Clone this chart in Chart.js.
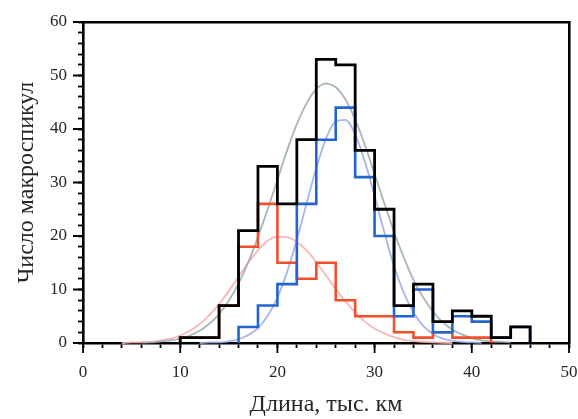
<!DOCTYPE html>
<html>
<head>
<meta charset="utf-8">
<script src="https://cdn.jsdelivr.net/npm/chart.js@4.4.1/dist/chart.umd.min.js"></script>
<style>
  html, body { margin: 0; padding: 0; background: #fff; }
  #wrap { width: 578px; height: 419px; }
  canvas { display: block; }
</style>
</head>
<body>
<div id="wrap"><canvas id="c" width="578" height="419"></canvas></div>
<script>
// Histogram bin edges (length, thousand km)
const binEdges = [10, 12, 14, 16, 18, 20, 22, 24, 26, 28, 30, 32, 34, 36, 38, 40, 42, 44, 46];
// Number of macrospicules per bin
const totalCounts = [1, 1, 7, 21, 33, 26, 38, 53, 52, 36, 25, 7, 11, 4, 6, 5, 1, 3];
const redCounts   = [1, 1, 7, 18, 26, 15, 12, 15, 8, 5, 5, 2, 1, 2, 1, 1, 0, 0];
const blueCounts  = [0, 0, 0, 3, 7, 11, 26, 38, 44, 31, 20, 5, 10, 2, 5, 4, 1, 3];

// Fitted distribution curves
const totalFitX = [6, 7, 8, 9, 10, 11, 12, 13, 14, 15, 16, 17, 18, 19, 20, 21, 22, 23, 24, 25,
                   26, 27, 28, 29, 30, 31, 32, 33, 34, 35, 36, 37, 38, 39, 40, 41, 42, 43, 44];
const totalFitY = [0.1, 0.1, 0.3, 0.5, 0.8, 1.4, 2.3, 3.6, 5.4, 7.9, 11.1, 15.1, 19.8, 25.0, 30.5, 36.0, 40.9, 44.8, 47.5, 48.5,
                   47.8, 45.5, 41.8, 37.0, 31.6, 26.1, 20.8, 16.0, 11.8, 8.5, 5.9, 3.9, 2.5, 1.6, 0.9, 0.5, 0.3, 0.2, 0.1];
const blueFitX = [12, 13, 14, 15, 16, 17, 18, 19, 20, 21, 22, 23, 24, 25, 26, 27, 28, 29, 30, 31,
                  32, 33, 34, 35, 36, 37, 38, 39, 40, 41];
const blueFitY = [0.0, 0.1, 0.1, 0.3, 0.7, 1.5, 2.8, 5.1, 8.5, 13.3, 19.3, 26.1, 32.7, 38.2, 41.4, 41.7, 39.0, 33.9, 27.5, 20.7,
                  14.4, 9.4, 5.7, 3.2, 1.7, 0.8, 0.4, 0.2, 0.1, 0.0];
const redFitX = [4, 5, 6, 7, 8, 9, 10, 11, 12, 13, 14, 15, 16, 17, 18, 19, 20, 21, 22, 23,
                 24, 25, 26, 27, 28, 29, 30, 31, 32, 33, 34, 35, 36, 37, 38];
const redFitY = [0.0, 0.1, 0.1, 0.2, 0.5, 0.8, 1.4, 2.3, 3.5, 5.2, 7.3, 9.7, 12.4, 15.0, 17.3, 19.1, 19.9, 19.8, 18.9, 17.3,
                 15.1, 12.6, 10.1, 7.8, 5.7, 4.0, 2.7, 1.8, 1.1, 0.6, 0.4, 0.2, 0.1, 0.05, 0.0];

// Axis tick values carrying labels
const xMajorTicks = [0, 10, 20, 30, 40, 50];
const yMajorTicks = [0, 10, 20, 30, 40, 50, 60];

const serif = "'Liberation Serif', 'Times New Roman', serif";
const textColor = '#262626';

// Outline of a histogram as a stepped polyline (skips empty bins at both ends)
function stepOutline(counts) {
  let first = counts.findIndex(v => v > 0);
  let last = counts.length - 1;
  while (counts[last] === 0) last--;
  const pts = [{ x: binEdges[first], y: 0 }];
  for (let i = first; i <= last; i++) pts.push({ x: binEdges[i], y: counts[i] });
  pts.push({ x: binEdges[last + 1], y: 0 });
  return pts;
}
function curve(xs, ys) {
  return xs.map((x, i) => ({ x: x, y: ys[i] }));
}

// Longer marks for the labelled ticks
const majorTickMarks = {
  id: 'majorTickMarks',
  afterDraw(chart) {
    const { ctx } = chart;
    const xs = chart.scales.x, ys = chart.scales.y;
    ctx.save();
    ctx.strokeStyle = '#000';
    ctx.lineWidth = 1.8;
    ctx.beginPath();
    xMajorTicks.forEach(v => {
      const px = xs.getPixelForValue(v);
      ctx.moveTo(px, xs.top);
      ctx.lineTo(px, xs.top + 10);
    });
    yMajorTicks.forEach(v => {
      const py = ys.getPixelForValue(v);
      ctx.moveTo(ys.right, py);
      ctx.lineTo(ys.right - 10, py);
    });
    ctx.stroke();
    ctx.restore();
  }
};

const stepStyle = (color, width, order) => ({
  type: 'line', stepped: 'before', borderColor: color, borderWidth: width,
  pointRadius: 0, fill: false, clip: false, order: order
});
const fitStyle = (color, order) => ({
  type: 'line', cubicInterpolationMode: 'monotone', borderColor: color, borderWidth: 1.8,
  pointRadius: 0, fill: false, clip: false, order: order
});

new Chart(document.getElementById('c'), {
  type: 'line',
  data: {
    datasets: [
      Object.assign({ label: 'Все', data: stepOutline(totalCounts) }, stepStyle('#000000', 2.8, 0)),
      Object.assign({ label: 'Синие', data: stepOutline(blueCounts) }, stepStyle('rgb(35,100,210)', 2.6, 1)),
      Object.assign({ label: 'Красные', data: stepOutline(redCounts) }, stepStyle('rgb(242,80,45)', 2.6, 2)),
      Object.assign({ label: 'Аппроксимация (все)', data: curve(totalFitX, totalFitY) }, fitStyle('rgba(150,170,176,0.85)', 3)),
      Object.assign({ label: 'Аппроксимация (синие)', data: curve(blueFitX, blueFitY) }, fitStyle('rgba(160,172,232,0.9)', 4)),
      Object.assign({ label: 'Аппроксимация (красные)', data: curve(redFitX, redFitY) }, fitStyle('rgba(250,175,175,0.9)', 5))
    ]
  },
  options: {
    responsive: false,
    animation: false,
    devicePixelRatio: 1,
    layout: { padding: { top: 22, right: 9, left: 0, bottom: 0 } },
    plugins: { legend: { display: false }, tooltip: { enabled: false } },
    scales: {
      x: {
        type: 'linear', position: 'bottom', min: 0, max: 50,
        afterFit(s) { s.height = 76; s.paddingLeft = 0; s.paddingRight = 0; },
        ticks: {
          stepSize: 2, autoSkip: false, maxRotation: 0, padding: 14,
          color: textColor, font: { family: serif, size: 17 },
          callback: v => (v % 10 === 0 ? String(v) : '')
        },
        grid: { drawOnChartArea: false, drawTicks: true, tickLength: 5, tickColor: '#000', tickWidth: 1.8 },
        border: { display: true, color: '#000', width: 2.6 },
        title: {
          display: true, text: 'Длина, тыс. км', color: textColor,
          font: { family: serif, size: 24, lineHeight: 1.2 }, padding: { top: 0, bottom: 0 }
        }
      },
      y: {
        type: 'linear', position: 'left', min: 0, max: 60,
        afterFit(s) { s.width = 83; s.paddingTop = 0; s.paddingBottom = 0; },
        ticks: {
          stepSize: 2, autoSkip: false, padding: 11,
          color: textColor, font: { family: serif, size: 17 },
          callback: v => (v % 10 === 0 ? String(v) : '')
        },
        grid: { drawOnChartArea: false, drawTicks: true, tickLength: 5, tickColor: '#000', tickWidth: 1.8 },
        border: { display: true, color: '#000', width: 2.6 },
        title: {
          display: true, text: 'Число макроспикул', color: textColor,
          font: { family: serif, size: 24, lineHeight: 1.2 }, padding: { top: 12, bottom: 0 }
        }
      },
      xTop: {
        type: 'linear', position: 'top', min: 0, max: 50,
        afterFit(s) { s.height = 0; s.paddingLeft = 0; s.paddingRight = 0; },
        ticks: { display: false },
        grid: { display: true, drawOnChartArea: false, drawTicks: false },
        border: { display: true, color: '#000', width: 2.6 }
      },
      yRight: {
        type: 'linear', position: 'right', min: 0, max: 60,
        afterFit(s) { s.width = 0; s.paddingTop = 0; s.paddingBottom = 0; },
        ticks: { display: false },
        grid: { display: true, drawOnChartArea: false, drawTicks: false },
        border: { display: true, color: '#000', width: 2.6 }
      }
    }
  },
  plugins: [majorTickMarks]
});
</script>
</body>
</html>
